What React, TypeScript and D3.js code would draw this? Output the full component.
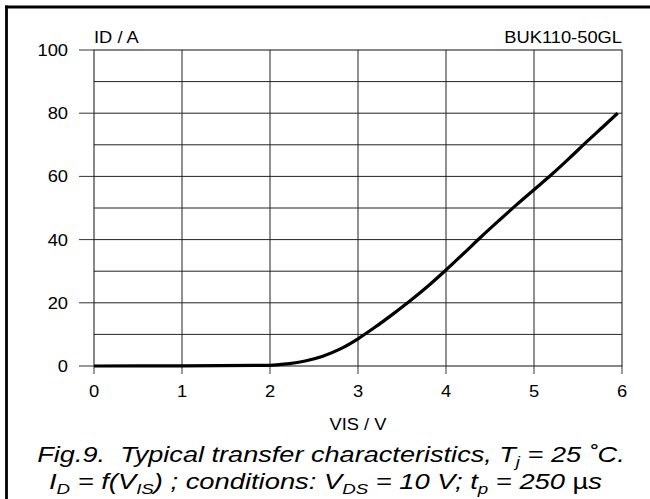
import React from "react";
import * as d3 from "d3";

const vis: number[] = [0, 1, 2, 2.2, 2.4, 2.6, 2.8, 3.0, 3.2, 3.4, 3.6, 3.8, 4.0, 4.2, 4.4, 4.6, 4.8, 5.0, 5.2, 5.4, 5.6, 5.8, 5.95];
const idA: number[] = [0, 0.05, 0.2, 0.7, 1.6, 3.1, 5.4, 8.6, 12.4, 16.5, 20.8, 25.4, 30.4, 35.6, 40.9, 46.0, 51.0, 55.8, 60.6, 65.7, 71.0, 76.1, 80.0];
const xTicks: number[] = [0, 1, 2, 3, 4, 5, 6];
const yTicks: number[] = [0, 20, 40, 60, 80, 100];
const yGrid: number[] = [10, 20, 30, 40, 50, 60, 70, 80, 90];

const FONT = "'Liberation Sans', Arial, Helvetica, sans-serif";

function T({ x, y, anchor = "start", size = 16.5, sx = 1.11, children }: any) {
  return (
    <text
      transform={`translate(${x},${y}) scale(${sx},1)`}
      textAnchor={anchor}
      fontFamily={FONT}
      fontSize={size}
      fill="#000"
    >
      {children}
    </text>
  );
}

export default function App() {
  const W = 650, H = 499;
  const x = d3.scaleLinear().domain([0, 6]).range([94, 622]);
  const y = d3.scaleLinear().domain([0, 100]).range([366, 50]);
  const line = d3
    .line<number>()
    .x((_, i) => x(vis[i]))
    .y((d) => y(d))
    .curve(d3.curveMonotoneX);

  const capSize = 21.2;
  const subSize = 14.5;

  return (
    <svg
      width={W}
      height={H}
      style={{ position: "absolute", left: 0, top: 0, background: "#fff" }}
    >
      <rect x={0} y={0} width={W} height={H} fill="#fff" />
      {/* frame */}
      <line x1={6.5} y1={5.5} x2={6.5} y2={H} stroke="#000" strokeWidth={2.8} />
      <line x1={5} y1={7} x2={W} y2={7} stroke="#000" strokeWidth={2.8} />

      {/* grid */}
      {xTicks.slice(1, -1).map((t) => (
        <line key={"vx" + t} x1={x(t)} x2={x(t)} y1={y(100)} y2={y(0)} stroke="#222" strokeWidth={1} />
      ))}
      {yGrid.map((t) => (
        <line key={"hy" + t} x1={x(0)} x2={x(6)} y1={y(t)} y2={y(t)} stroke="#222" strokeWidth={1} />
      ))}
      <rect x={x(0)} y={y(100)} width={x(6) - x(0)} height={y(0) - y(100)} fill="none" stroke="#111" strokeWidth={1} />

      {/* y ticks */}
      {yTicks.map((t) => (
        <g key={"yt" + t}>
          <line x1={79} x2={x(0)} y1={y(t)} y2={y(t)} stroke="#333" strokeWidth={1} />
          <T x={68} y={y(t) + 5.9} anchor="end">{t}</T>
        </g>
      ))}
      {/* x ticks */}
      {xTicks.map((t) => (
        <g key={"xt" + t}>
          <line x1={x(t)} x2={x(t)} y1={y(0)} y2={374} stroke="#333" strokeWidth={1} />
          <T x={x(t)} y={397} anchor="middle">{t}</T>
        </g>
      ))}

      {/* curve */}
      <path d={line(idA) || ""} fill="none" stroke="#000" strokeWidth={3.2} strokeLinejoin="round" />

      {/* labels */}
      <T x={94} y={42.5}>ID / A</T>
      <T x={622} y={43.3} anchor="end">BUK110-50GL</T>
      <T x={358} y={429.5} anchor="middle">VIS / V</T>

      {/* caption */}
      <g transform="translate(331,462) scale(1.28,1)">
        <text
          x={0}
          y={0}
          textAnchor="middle"
          fontFamily={FONT}
          fontSize={capSize}
          fontStyle="italic"
          style={{ whiteSpace: "pre" }}
        >
          <tspan>{"Fig.9.  Typical transfer characteristics, T"}</tspan>
          <tspan fontSize={subSize} dy={5}>j</tspan>
          <tspan dy={-5}>{" = 25 ˚C."}</tspan>
        </text>
      </g>
      <g transform="translate(325.5,489) scale(1.29,1)">
        <text
          x={0}
          y={0}
          textAnchor="middle"
          fontFamily={FONT}
          fontSize={capSize}
          fontStyle="italic"
          style={{ whiteSpace: "pre" }}
        >
          <tspan>I</tspan>
          <tspan fontSize={subSize} dy={5}>D</tspan>
          <tspan dy={-5}>{" = f(V"}</tspan>
          <tspan fontSize={subSize} dy={5}>IS</tspan>
          <tspan dy={-5}>{") ; conditions: V"}</tspan>
          <tspan fontSize={subSize} dy={5}>DS</tspan>
          <tspan dy={-5}>{" = 10 V; t"}</tspan>
          <tspan fontSize={subSize} dy={5}>p</tspan>
          <tspan dy={-5}>{" = 250 "}</tspan>
          <tspan fontStyle="normal">µ</tspan>
          <tspan>s</tspan>
        </text>
      </g>
    </svg>
  );
}
